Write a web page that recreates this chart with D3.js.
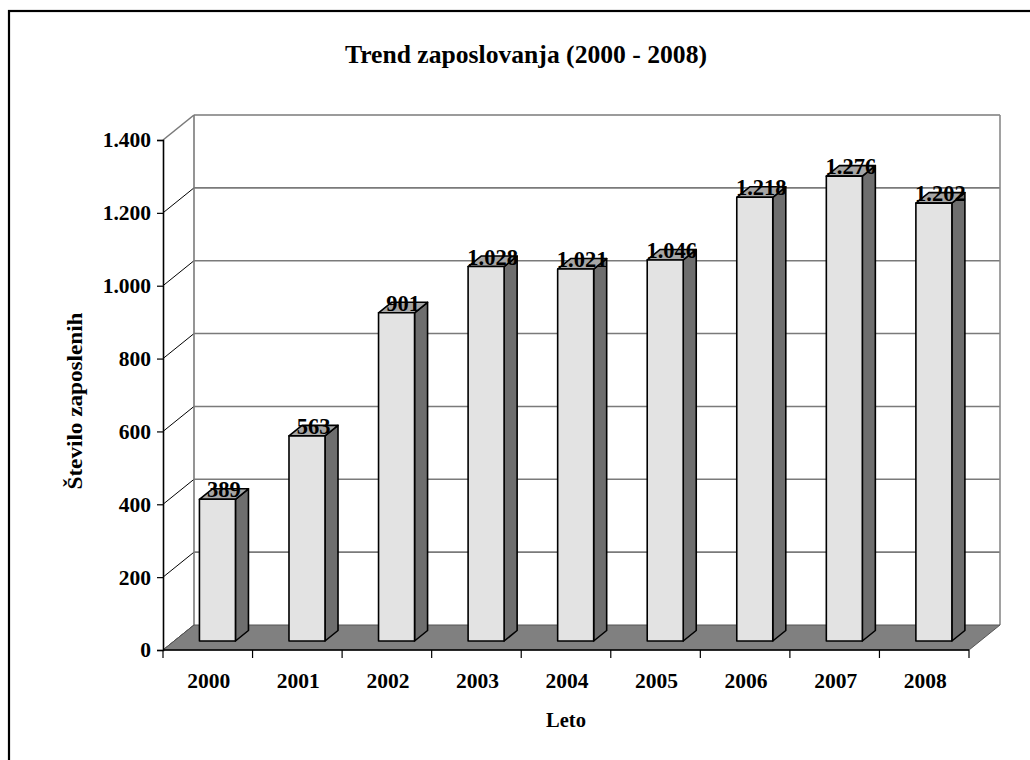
<!DOCTYPE html>
<html>
<head>
<meta charset="utf-8">
<script src="https://cdn.jsdelivr.net/npm/d3@7"></script>
<style>
  html, body { margin: 0; padding: 0; background: #fff; }
  svg { display: block; }
  text { font-family: "Liberation Serif", "Times New Roman", serif; font-weight: bold; fill: #000; }
</style>
</head>
<body>
<svg id="chart" width="1030" height="760"></svg>
<script>
// Employment per year
const years = ["2000", "2001", "2002", "2003", "2004", "2005", "2006", "2007", "2008"];
const employees = [389, 563, 901, 1028, 1021, 1046, 1218, 1276, 1202];
const yTicks = [0, 200, 400, 600, 800, 1000, 1200, 1400];
const titleText = "Trend zaposlovanja (2000 - 2008)";
const yTitle = "Število zaposlenih";
const xTitle = "Leto";

const svg = d3.select("#chart");
const fmt = d3.formatLocale({ decimal: ",", thousands: ".", grouping: [3], currency: ["", "€"] }).format(",d");

// Front plane of the 3D plot and the depth offset to its back plane
const x0 = 163, x1 = 969, yBase = 650, yTop = 140;
const DX = 31, DY = 25;
const x = d3.scaleBand().domain(years).range([x0, x1]).padding(0);
const y = d3.scaleLinear().domain([0, 1400]).range([yBase, yTop]);
// project (screen x at front, screen y at front, depth 0..1)
const P = (px, py, z) => [px + z * DX, py - z * DY];
const path = pts => "M" + pts.map(p => p.join(",")).join("L") + "Z";

// outer frame
svg.append("rect").attr("x", 9).attr("y", 11).attr("width", 1040).attr("height", 780)
  .attr("fill", "none").attr("stroke", "#000").attr("stroke-width", 2.2);

// back wall
const bwL = x0 + DX, bwR = x1 + DX;
svg.append("rect").attr("x", bwL).attr("y", y(1400) - DY).attr("width", bwR - bwL)
  .attr("height", y(0) - y(1400)).attr("fill", "#fff");

// gridlines on the back wall and the left wall
yTicks.forEach(v => {
  if (v > 0) {
    svg.append("line").attr("x1", bwL).attr("x2", bwR)
      .attr("y1", y(v) - DY).attr("y2", y(v) - DY)
      .attr("stroke", "#7a7a7a").attr("stroke-width", 1.6);
  }
  svg.append("line").attr("x1", x0).attr("y1", y(v)).attr("x2", x0 + DX).attr("y2", y(v) - DY)
    .attr("stroke", v === 1400 ? "#7a7a7a" : "#000").attr("stroke-width", v === 1400 ? 1.6 : 1);
});
// wall edges
svg.append("line").attr("x1", bwL).attr("x2", bwL).attr("y1", y(1400) - DY).attr("y2", y(0) - DY)
  .attr("stroke", "#7a7a7a").attr("stroke-width", 1.6);
svg.append("line").attr("x1", bwR).attr("x2", bwR).attr("y1", y(1400) - DY).attr("y2", y(0) - DY)
  .attr("stroke", "#8a8a8a").attr("stroke-width", 1.6);

// floor
svg.append("path")
  .attr("d", path([P(x0, y(0), 0), P(x0, y(0), 1), P(x1, y(0), 1), P(x1, y(0), 0)]))
  .attr("fill", "#808080").attr("stroke", "#555").attr("stroke-width", 1);

// bars
const zF = 0.36, zB = 0.78, barW = 36;
const bars = svg.append("g");
years.forEach((yr, i) => {
  const v = employees[i];
  const cx = x(yr) + x.bandwidth() / 2 - 1.5;
  const l = cx - barW / 2, r = cx + barW / 2;
  const top = y(v), bot = y(0);
  const g = bars.append("g").attr("stroke", "#000").attr("stroke-width", 1.6).attr("stroke-linejoin", "round");
  // side face
  g.append("path").attr("d", path([P(r, bot, zF), P(r, bot, zB), P(r, top, zB), P(r, top, zF)]))
    .attr("fill", "#6e6e6e");
  // top face
  g.append("path").attr("d", path([P(l, top, zF), P(l, top, zB), P(r, top, zB), P(r, top, zF)]))
    .attr("fill", "#a6a6a6");
  // front face
  const f0 = P(l, top, zF), f1 = P(r, bot, zF);
  g.append("rect").attr("x", f0[0]).attr("y", f0[1]).attr("width", f1[0] - f0[0]).attr("height", f1[1] - f0[1])
    .attr("fill", "#e3e3e3");
  // value label centred over the top face
  const lc = P(cx, top, (zF + zB) / 2);
  svg.append("text").attr("x", lc[0]).attr("y", f0[1] - 2).attr("text-anchor", "middle")
    .attr("font-size", 22.5).text(fmt(v));
});

// floor front edge and category ticks
svg.append("line").attr("x1", x0).attr("x2", x1).attr("y1", yBase).attr("y2", yBase)
  .attr("stroke", "#000").attr("stroke-width", 1.6);
const edges = years.map(d => x(d)).concat([x1]);
svg.append("g").selectAll("line").data(edges).join("line")
  .attr("x1", d => d).attr("x2", d => d).attr("y1", yBase).attr("y2", yBase + 8)
  .attr("stroke", "#000").attr("stroke-width", 1.2);
svg.append("g").selectAll("text").data(years).join("text")
  .attr("x", d => x(d) + x.bandwidth() / 2 + 1).attr("y", 688)
  .attr("text-anchor", "middle").attr("font-size", 21.5).text(d => d);

// value axis
const yAxis = svg.append("g").attr("transform", `translate(${x0},0)`)
  .call(d3.axisLeft(y).tickValues(yTicks).tickSize(6).tickPadding(6).tickFormat(fmt));
yAxis.select(".domain").attr("stroke", "#000").attr("stroke-width", 1.6);
yAxis.selectAll(".tick line").attr("stroke", "#000").attr("stroke-width", 1.2);
yAxis.selectAll(".tick text").attr("font-size", 21.5).attr("font-family", "Liberation Serif, Times New Roman, serif")
  .attr("font-weight", "bold").attr("fill", "#000");

// titles
svg.append("text").attr("x", 526).attr("y", 63).attr("text-anchor", "middle")
  .attr("font-size", 25).attr("textLength", 362).attr("lengthAdjust", "spacingAndGlyphs").text(titleText);
svg.append("text").attr("transform", "translate(82,401) rotate(-90)").attr("text-anchor", "middle")
  .attr("font-size", 21).attr("textLength", 177).attr("lengthAdjust", "spacingAndGlyphs").text(yTitle);
svg.append("text").attr("x", 566).attr("y", 727).attr("text-anchor", "middle")
  .attr("font-size", 20.5).text(xTitle);
</script>
</body>
</html>
